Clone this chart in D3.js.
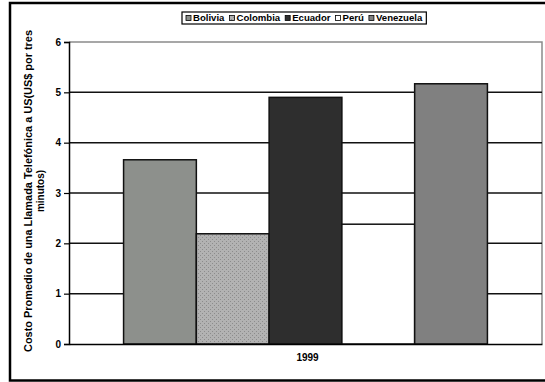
<!DOCTYPE html>
<html>
<head>
<meta charset="utf-8">
<script src="https://cdn.jsdelivr.net/npm/d3@7/dist/d3.min.js"></script>
<style>
  html, body { margin: 0; padding: 0; background: #fff; }
  svg { display: block; font-family: "Liberation Sans", Arial, sans-serif; }
</style>
</head>
<body>
<svg id="chart" width="545" height="382"></svg>
<script>
// Data
const categories = ["1999"];
const series = ["Bolivia", "Colombia", "Ecuador", "Perú", "Venezuela"];
const values = [3.66, 2.19, 4.90, 2.38, 5.17];
const yTicks = [0, 1, 2, 3, 4, 5, 6];
const yTitle = ["Costo Promedio de una Llamada Telefónica a US(US$ por tres", "minutos)"];

const fills = {
  "Bolivia": "#8d908c",
  "Colombia": "url(#dots)",
  "Ecuador": "#2e2e2e",
  "Perú": "#ffffff",
  "Venezuela": "#808080"
};

const svg = d3.select("#chart");

// dotted fill for Colombia
const defs = svg.append("defs");
const pat = defs.append("pattern").attr("id", "dots")
  .attr("patternUnits", "userSpaceOnUse").attr("width", 4).attr("height", 4);
pat.append("rect").attr("width", 4).attr("height", 4).attr("fill", "#b2b2b2");
pat.append("rect").attr("x", 1).attr("y", 1).attr("width", 1).attr("height", 1).attr("fill", "#8c8c8c");
pat.append("rect").attr("x", 3).attr("y", 3).attr("width", 1).attr("height", 1).attr("fill", "#8c8c8c");

// outer chart frame
svg.append("rect").attr("x", 10).attr("y", 3).attr("width", 560).attr("height", 377.5)
  .attr("fill", "none").attr("stroke", "#000").attr("stroke-width", 2.5);

const plot = { left: 69, right: 542, top: 42, bottom: 344 };

const x0 = d3.scaleBand().domain(categories).range([plot.left, plot.right]).padding(0);
const x1 = d3.scaleBand().domain(series).range([0, x0.bandwidth()])
  .paddingInner(0).paddingOuter(0.75);
const y = d3.scaleLinear().domain([0, 6]).range([plot.bottom, plot.top]);

// plot area border (grey top/right)
svg.append("path")
  .attr("d", `M${plot.left},${plot.top}H${plot.right}V${plot.bottom}`)
  .attr("fill", "none").attr("stroke", "#8a8a8a").attr("stroke-width", 1.5);

// gridlines
svg.append("g").selectAll("line").data(yTicks.filter(t => t > 0 && t < 6)).join("line")
  .attr("x1", plot.left).attr("x2", plot.right)
  .attr("y1", d => y(d)).attr("y2", d => y(d))
  .attr("stroke", "#111").attr("stroke-width", 1.5);

// bars
const g = svg.append("g").attr("transform", `translate(${x0(categories[0])},0)`);
g.selectAll("rect").data(series.map((s, i) => ({ s, v: values[i] }))).join("rect")
  .attr("x", d => x1(d.s))
  .attr("width", x1.bandwidth())
  .attr("y", d => y(d.v))
  .attr("height", d => y(0) - y(d.v))
  .attr("fill", d => fills[d.s])
  .attr("stroke", "#111").attr("stroke-width", 1.5);

// y axis
const yAxis = svg.append("g").attr("transform", `translate(${plot.left},0)`)
  .call(d3.axisLeft(y).tickValues(yTicks).tickFormat(d3.format("d")).tickSize(5).tickPadding(3));
yAxis.select(".domain").attr("stroke", "#000").attr("stroke-width", 1.5);
yAxis.selectAll(".tick line").attr("stroke", "#000").attr("stroke-width", 1.2);
yAxis.selectAll(".tick text").attr("font-size", 10).attr("font-weight", "bold")
  .attr("fill", "#000").attr("font-family", "Liberation Sans, Arial, sans-serif");

// x axis
const xAxis = svg.append("g").attr("transform", `translate(0,${plot.bottom})`)
  .call(d3.axisBottom(x0).tickSize(0).tickPadding(10));
xAxis.select(".domain").attr("stroke", "#000").attr("stroke-width", 1.5);
xAxis.selectAll(".tick text").attr("font-size", 10).attr("font-weight", "bold")
  .attr("fill", "#000").attr("font-family", "Liberation Sans, Arial, sans-serif")
  .attr("transform", "translate(2,0)");

// y axis title, stretched along the plot height
const cy = 191;
yTitle.forEach((line, i) => {
  const t = svg.append("text")
    .attr("transform", `translate(${32 + i * 11.5},${cy}) rotate(-90)`)
    .attr("text-anchor", "middle")
    .attr("font-size", 10).attr("font-weight", "bold")
    .attr("fill", "#000")
    .text(line);
  if (i === 0) t.attr("textLength", 322).attr("lengthAdjust", "spacingAndGlyphs");
});

// legend
const legend = svg.append("g");
const lgX = 182, lgY = 12, lgH = 12;
let cx = lgX + 4;
series.forEach(s => {
  const it = legend.append("g");
  it.append("rect").attr("x", cx).attr("y", lgY + 3.5).attr("width", 5).attr("height", 5)
    .attr("fill", fills[s]).attr("stroke", "#000").attr("stroke-width", 0.8);
  const t = it.append("text").attr("x", cx + 7).attr("y", lgY + 9.4)
    .attr("font-size", 9.6).attr("font-weight", "bold").attr("fill", "#000").text(s);
  cx += 7 + t.node().getComputedTextLength() + 5;
});
legend.insert("rect", ":first-child")
  .attr("x", lgX).attr("y", lgY).attr("width", cx - lgX - 1).attr("height", lgH)
  .attr("fill", "#fff").attr("stroke", "#000").attr("stroke-width", 1.2);
</script>
</body>
</html>
